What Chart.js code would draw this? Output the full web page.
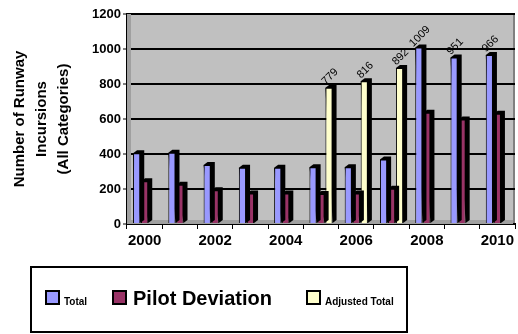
<!DOCTYPE html>
<html>
<head>
<meta charset="utf-8">
<title>Runway Incursions</title>
<script src="https://cdn.jsdelivr.net/npm/chart.js@4.4.1/dist/chart.umd.min.js"></script>
<style>
  html, body { margin: 0; padding: 0; background: #ffffff; }
  #wrap { width: 518px; height: 334px; position: relative; }
</style>
</head>
<body>
<div id="wrap"><canvas id="chart" width="518" height="334"></canvas></div>
<script>
// Calendar years on the category axis
const years = ['2000', '2001', '2002', '2003', '2004', '2005', '2006', '2007', '2008', '2009', '2010'];
// Only every other year is labelled under the axis
const xTickLabels = ['2000', '', '2002', '', '2004', '', '2006', '', '2008', '', '2010'];
const yTicks = [0, 200, 400, 600, 800, 1000, 1200];

// Runway incursions per year
const totalIncursions = [405, 407, 337, 322, 322, 324, 325, 368, 1009, 951, 966];
const pilotDeviation  = [244, 225, 193, 174, 174, 172, 175, 202, 636, 597, 630];
const adjustedTotal   = [null, null, null, null, null, 779, 816, 892, null, null, null];

// Years whose "Total" bar carries a value label
const totalLabelYears = ['2008', '2009', '2010'];

const FONT = '"Liberation Sans", Arial, Helvetica, sans-serif';

// Grey back wall, side wall and floor of the plot
const plotWalls = {
  id: 'plotWalls',
  beforeDraw(chart) {
    const { ctx, chartArea: a } = chart;
    ctx.save();
    ctx.fillStyle = '#C0C0C0';
    ctx.fillRect(a.left, a.top, a.right - a.left, a.bottom - a.top);
    ctx.strokeStyle = '#808080';
    ctx.lineWidth = 2;
    ctx.beginPath();
    ctx.moveTo(a.left, a.top);
    ctx.lineTo(a.right - 1, a.top);
    ctx.lineTo(a.right - 1, a.bottom);
    ctx.stroke();
    ctx.restore();
  },
  beforeDatasetsDraw(chart) {
    const { ctx, chartArea: a } = chart;
    ctx.save();
    ctx.fillStyle = '#A0A0A0';
    ctx.fillRect(a.left, a.top, 4, a.bottom - a.top);
    ctx.fillRect(a.left, a.bottom - 4, a.right - a.left - 2, 4);
    ctx.restore();
  },
  // dark top and side faces behind each bar give it depth
  beforeDatasetDraw(chart, args) {
    const { ctx } = chart;
    const dx = 4, dy = 3;
    ctx.save();
    ctx.fillStyle = '#000000';
    args.meta.data.forEach((el, i) => {
      const v = chart.data.datasets[args.index].data[i];
      if (v === null || v === undefined) return;
      const p = el.getProps(['x', 'y', 'base', 'width'], true);
      const l = p.x - p.width / 2, r = p.x + p.width / 2;
      ctx.beginPath();
      ctx.moveTo(l, p.y);
      ctx.lineTo(l + dx, p.y - dy);
      ctx.lineTo(r + dx, p.y - dy);
      ctx.lineTo(r + dx, p.base - dy);
      ctx.lineTo(r, p.base);
      ctx.closePath();
      ctx.fill();
    });
    ctx.restore();
  }
};

// Slanted value labels above selected bars
const slantedValues = {
  id: 'slantedValues',
  afterDatasetsDraw(chart) {
    const { ctx } = chart;
    ctx.save();
    ctx.font = '11px ' + FONT;
    ctx.fillStyle = '#000000';
    ctx.textAlign = 'center';
    ctx.textBaseline = 'middle';
    chart.data.datasets.forEach((ds, di) => {
      const meta = chart.getDatasetMeta(di);
      ds.data.forEach((v, i) => {
        if (v === null || v === undefined) return;
        const show = ds.label === 'Adjusted Total' ||
          (ds.label === 'Total' && totalLabelYears.includes(years[i]));
        if (!show) return;
        const bar = meta.data[i];
        ctx.save();
        ctx.translate(bar.x + 1, bar.y - 11);
        ctx.rotate(-Math.PI / 4);
        ctx.fillText(String(v), 0, 0);
        ctx.restore();
      });
    });
    ctx.restore();
  }
};

// Boxed legend below the chart, each entry in its own type size
const boxedLegend = {
  id: 'boxedLegend',
  afterDraw(chart, args, opts) {
    const { ctx } = chart;
    const f = opts.frame;
    ctx.save();
    ctx.strokeStyle = '#000000';
    ctx.lineWidth = 2;
    ctx.strokeRect(f.x, f.y, f.w, f.h);
    chart.data.datasets.forEach((ds, i) => {
      const it = opts.items[i];
      ctx.fillStyle = '#000000';
      ctx.fillRect(it.x, opts.swatchTop, opts.swatch, opts.swatch);
      ctx.fillStyle = ds.backgroundColor;
      ctx.fillRect(it.x + 2, opts.swatchTop + 2, opts.swatch - 4, opts.swatch - 4);
      ctx.fillStyle = '#000000';
      ctx.font = 'bold ' + it.size + 'px ' + FONT;
      ctx.textAlign = 'left';
      ctx.textBaseline = 'alphabetic';
      ctx.fillText(ds.label, it.x + opts.swatch + it.gap, opts.baseline);
    });
    ctx.restore();
  }
};

const barShape = {
  borderColor: '#000000',
  borderWidth: 1,
  borderSkipped: 'bottom',
  categoryPercentage: 0.68,
  barPercentage: 0.9
};

new Chart(document.getElementById('chart'), {
  type: 'bar',
  data: {
    labels: years,
    datasets: [
      Object.assign({ label: 'Total', data: totalIncursions, backgroundColor: '#9999FF' }, barShape),
      Object.assign({ label: 'Pilot Deviation', data: pilotDeviation, backgroundColor: '#993366' }, barShape),
      Object.assign({ label: 'Adjusted Total', data: adjustedTotal, backgroundColor: '#FFFFCC' }, barShape)
    ]
  },
  options: {
    responsive: false,
    animation: false,
    layout: { padding: { left: 0, top: 14, right: 3, bottom: 80 } },
    plugins: {
      legend: { display: false },
      tooltip: { enabled: false },
      boxedLegend: {
        frame: { x: 31, y: 267, w: 376, h: 65 },
        swatch: 15,
        swatchTop: 290,
        baseline: 305,
        items: [
          { x: 45, size: 10, gap: 4 },
          { x: 112, size: 20, gap: 6 },
          { x: 306, size: 10, gap: 4 }
        ]
      }
    },
    scales: {
      x: {
        type: 'category',
        offset: true,
        afterFit(s) { s.height = 30; },
        grid: {
          display: true,
          offset: true,
          drawOnChartArea: false,
          drawTicks: true,
          tickLength: 5,
          color: '#000000',
          lineWidth: 1
        },
        border: { display: true, color: '#000000', width: 2 },
        ticks: {
          autoSkip: false,
          maxRotation: 0,
          minRotation: 0,
          padding: 3,
          color: '#000000',
          font: { family: FONT, size: 15, weight: 'bold' },
          callback: (v, i) => xTickLabels[i]
        }
      },
      y: {
        min: 0,
        max: 1200,
        afterFit(s) { s.width = 127; },
        afterBuildTicks(s) { s.ticks = yTicks.map(v => ({ value: v })); },
        grid: {
          color: c => (c.tick && c.tick.value === 0 ? 'rgba(0,0,0,0)' : '#000000'),
          tickColor: '#000000',
          lineWidth: 2,
          tickWidth: 1,
          drawTicks: true,
          tickLength: 4
        },
        border: { display: true, color: '#000000', width: 2 },
        ticks: {
          padding: 2,
          color: '#000000',
          font: { family: FONT, size: 13, weight: 'bold' },
          callback: v => String(v)
        },
        title: {
          display: true,
          text: ['Number of Runway', 'Incursions', '(All Categories)'],
          color: '#000000',
          font: { family: FONT, size: 15, weight: 'bold', lineHeight: 1.45 },
          padding: { top: 9, bottom: 0 }
        }
      }
    }
  },
  plugins: [plotWalls, slantedValues, boxedLegend]
});
</script>
</body>
</html>
